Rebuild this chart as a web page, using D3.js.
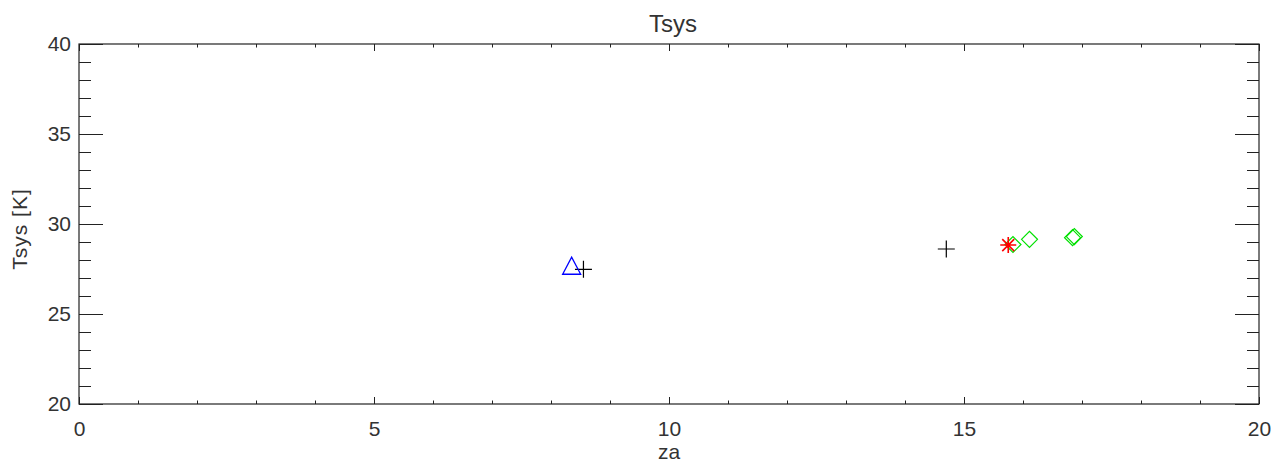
<!DOCTYPE html>
<html><head><meta charset="utf-8">
<script src="https://d3js.org/d3.v7.min.js"></script>
<style>body{margin:0;background:#fff}</style>
</head><body>
<script>
const xTicks = [0, 5, 10, 15, 20];
const yTicks = [20, 25, 30, 35, 40];
const plusPts = [[8.55, 27.48], [14.70, 28.61]];
const trianglePts = [[8.35, 27.68]];
const asteriskPts = [[15.75, 28.83]];
const diamondPts = [[15.83, 28.86], [16.11, 29.15], [16.84, 29.24], [16.87, 29.30]];

const W = 1275, H = 460;
const m = {l: 79, r: 1259, t: 44, b: 404};
const svg = d3.select("body").append("svg").attr("width", W).attr("height", H);
const x = d3.scaleLinear().domain([0, 20]).range([m.l, m.r]);
const y = d3.scaleLinear().domain([20, 40]).range([m.b, m.t]);
const font = "Liberation Sans, Arial, sans-serif";
const ink = "#222";
const txt = "#333";

function styleAxis(g){
  g.select(".domain").remove();
  g.selectAll("line").attr("stroke", ink);
  g.selectAll("text").attr("font-family", font).attr("font-size", 21).attr("fill", txt);
}
const xMinor = d3.range(0, 21, 1).filter(v => v % 5 !== 0);
const yMinor = d3.range(20, 41, 1).filter(v => v % 5 !== 0);

// bottom
svg.append("g").attr("transform", `translate(0,${m.b})`)
  .call(d3.axisBottom(x).tickValues(xTicks).tickFormat(d3.format("d")).tickSizeInner(-7).tickSizeOuter(0).tickPadding(17)).call(styleAxis);
svg.append("g").attr("transform", `translate(0,${m.b})`)
  .call(d3.axisBottom(x).tickValues(xMinor).tickFormat("").tickSizeInner(-3.5).tickSizeOuter(0)).call(styleAxis);
// top
svg.append("g").attr("transform", `translate(0,${m.t})`)
  .call(d3.axisTop(x).tickValues(xTicks).tickFormat("").tickSizeInner(-7).tickSizeOuter(0)).call(styleAxis);
svg.append("g").attr("transform", `translate(0,${m.t})`)
  .call(d3.axisTop(x).tickValues(xMinor).tickFormat("").tickSizeInner(-3.5).tickSizeOuter(0)).call(styleAxis);
// left
svg.append("g").attr("transform", `translate(${m.l},0)`)
  .call(d3.axisLeft(y).tickValues(yTicks).tickFormat(d3.format("d")).tickSizeInner(-24).tickSizeOuter(0).tickPadding(8)).call(styleAxis);
svg.append("g").attr("transform", `translate(${m.l},0)`)
  .call(d3.axisLeft(y).tickValues(yMinor).tickFormat("").tickSizeInner(-12).tickSizeOuter(0)).call(styleAxis);
// right
svg.append("g").attr("transform", `translate(${m.r},0)`)
  .call(d3.axisRight(y).tickValues(yTicks).tickFormat("").tickSizeInner(-24).tickSizeOuter(0)).call(styleAxis);
svg.append("g").attr("transform", `translate(${m.r},0)`)
  .call(d3.axisRight(y).tickValues(yMinor).tickFormat("").tickSizeInner(-12).tickSizeOuter(0)).call(styleAxis);

svg.append("rect").attr("x", m.l).attr("y", m.t).attr("width", m.r - m.l).attr("height", m.b - m.t)
  .attr("fill", "none").attr("stroke", ink).attr("stroke-width", 1.2);

// titles
svg.append("text").attr("x", 673).attr("y", 32).attr("text-anchor", "middle")
  .attr("font-family", font).attr("font-size", 24).attr("fill", txt).text("Tsys");
svg.append("text").attr("x", 669).attr("y", 459).attr("text-anchor", "middle")
  .attr("font-family", font).attr("font-size", 21).attr("fill", txt).text("za");
svg.append("text").attr("transform", "translate(27,229) rotate(-90)").attr("text-anchor", "middle")
  .attr("font-family", font).attr("font-size", 21).attr("letter-spacing", 1).attr("fill", txt).text("Tsys [K]");

// markers
const s = 8.5;
svg.append("g").selectAll("path").data(plusPts).join("path")
  .attr("d", d => `M${x(d[0]) - s},${y(d[1])}H${x(d[0]) + s}M${x(d[0])},${y(d[1]) - s}V${y(d[1]) + s}`)
  .attr("stroke", "#000").attr("stroke-width", 1.2).attr("fill", "none");
svg.append("g").selectAll("path").data(trianglePts).join("path")
  .attr("d", d => `M${x(d[0]) - 9},${y(d[1]) + 8.5}L${x(d[0])},${y(d[1]) - 8.5}L${x(d[0]) + 9},${y(d[1]) + 8.5}Z`)
  .attr("stroke", "#0000ff").attr("stroke-width", 1.3).attr("fill", "none");
svg.append("g").selectAll("path").data(diamondPts).join("path")
  .attr("d", d => `M${x(d[0]) - 8},${y(d[1])}L${x(d[0])},${y(d[1]) - 8}L${x(d[0]) + 8},${y(d[1])}L${x(d[0])},${y(d[1]) + 8}Z`)
  .attr("stroke", "#00e000").attr("stroke-width", 1.2).attr("fill", "none");
const a = 8, b = 6;
svg.append("g").selectAll("path").data(asteriskPts).join("path")
  .attr("d", d => { const cx = x(d[0]), cy = y(d[1]);
    return `M${cx - a},${cy}H${cx + a}M${cx},${cy - a}V${cy + a}M${cx - b},${cy - b}L${cx + b},${cy + b}M${cx - b},${cy + b}L${cx + b},${cy - b}`; })
  .attr("stroke", "#ff0000").attr("stroke-width", 1.6).attr("fill", "none");
</script>
</body></html>
